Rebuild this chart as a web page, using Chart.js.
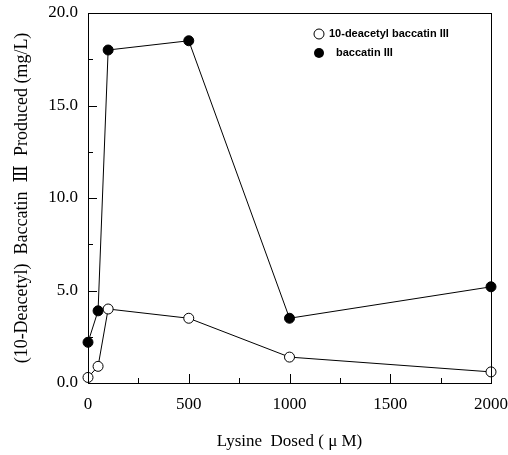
<!DOCTYPE html>
<html>
<head>
<meta charset="utf-8">
<script src="https://cdn.jsdelivr.net/npm/chart.js@4"></script>
<style>
  html, body { margin: 0; padding: 0; background: #fff; }
  #wrap { width: 508px; height: 455px; }
</style>
</head>
<body>
<div id="wrap"><canvas id="chart" width="508" height="455"></canvas></div>
<script>
// lysine dose (uM) and yields (mg/L)
const doses = [0, 50, 100, 500, 1000, 2000];
const deacetylBaccatin = [0.3, 0.9, 4.0, 3.5, 1.4, 0.6];
const baccatin = [2.2, 3.9, 18.0, 18.5, 3.5, 5.2];
const xTicks = [0, 500, 1000, 1500, 2000];
const yTicks = [0, 5, 10, 15, 20];
const legendLabels = ["10-deacetyl baccatin III", "baccatin III"];

const serif = "'Liberation Serif', 'DejaVu Serif', serif";

/* ===== frame + inward ticks ===== */
const framePlugin = {
    id: "frame",
    afterDatasetsDraw(chart) {
        const { ctx, chartArea: a, scales } = chart;
        ctx.save();
        ctx.strokeStyle = "#000";
        ctx.lineWidth = 1;
        ctx.strokeRect(a.left + 0.5, a.top + 0.5, a.right - a.left, a.bottom - a.top);

        ctx.beginPath();
        for (let v = 250; v < 2000; v += 250) {
            const x = Math.round(scales.x.getPixelForValue(v)) + 0.5;
            const len = v % 500 === 0 ? 9 : 5;
            ctx.moveTo(x, a.bottom);
            ctx.lineTo(x, a.bottom - len);
        }
        for (let v = 2.5; v < 20; v += 2.5) {
            const y = Math.round(scales.y.getPixelForValue(v)) + 0.5;
            const len = v % 5 === 0 ? 9 : 5;
            ctx.moveTo(a.left, y);
            ctx.lineTo(a.left + len, y);
        }
        ctx.stroke();
        ctx.restore();
    }
};

/* ===== legend inside plot ===== */
const legendPlugin = {
    id: "innerLegend",
    afterDraw(chart) {
        const { ctx, chartArea: a } = chart;
        const x0 = a.left + 231;
        ctx.save();
        ctx.font = "bold 11px 'Liberation Sans', Arial, sans-serif";
        ctx.textBaseline = "middle";
        ctx.strokeStyle = "#000";
        ctx.lineWidth = 1;

        ctx.beginPath();
        ctx.arc(x0, a.top + 21, 5, 0, Math.PI * 2);
        ctx.fillStyle = "#fff";
        ctx.fill();
        ctx.stroke();
        ctx.fillStyle = "#000";
        ctx.fillText(legendLabels[0], x0 + 10, a.top + 21);

        ctx.beginPath();
        ctx.arc(x0, a.top + 40, 5, 0, Math.PI * 2);
        ctx.fill();
        ctx.fillText(legendLabels[1], x0 + 17, a.top + 40);
        ctx.restore();
    }
};

function noPad(s) {
    s.paddingTop = 0;
    s.paddingBottom = 0;
    s.paddingLeft = 0;
    s.paddingRight = 0;
}

new Chart(document.getElementById("chart"), {
    type: "line",
    data: {
        datasets: [
            {
                label: legendLabels[0],
                data: doses.map((d, i) => ({ x: d, y: deacetylBaccatin[i] })),
                borderColor: "#000",
                borderWidth: 1,
                pointBackgroundColor: "#fff",
                pointBorderColor: "#000",
                pointBorderWidth: 1,
                pointRadius: 5,
                clip: false
            },
            {
                label: legendLabels[1],
                data: doses.map((d, i) => ({ x: d, y: baccatin[i] })),
                borderColor: "#000",
                borderWidth: 1,
                pointBackgroundColor: "#000",
                pointBorderColor: "#000",
                pointBorderWidth: 1,
                pointRadius: 5,
                clip: false
            }
        ]
    },
    options: {
        responsive: false,
        animation: false,
        layout: { padding: { top: 13, right: 17, left: 0, bottom: 0 } },
        plugins: { legend: { display: false }, tooltip: { enabled: false } },
        scales: {
            x: {
                type: "linear",
                min: 0, max: 2000,
                afterBuildTicks: s => { s.ticks = xTicks.map(v => ({ value: v })); },
                afterFit: s => { s.height = 72; noPad(s); },
                grid: { display: false, drawTicks: false },
                border: { display: false },
                ticks: {
                    padding: 11,
                    color: "#000",
                    font: { family: serif, size: 17 },
                    maxRotation: 0,
                    callback: v => String(v)
                },
                title: {
                    display: true,
                    text: "Lysine  Dosed ( μ M)",
                    color: "#000",
                    font: { family: serif, size: 17 },
                    padding: { top: 0, bottom: 3 }
                }
            },
            y: {
                type: "linear",
                min: 0, max: 20,
                afterBuildTicks: s => { s.ticks = yTicks.map(v => ({ value: v })); },
                afterFit: s => { s.width = 88; noPad(s); },
                grid: { display: false, drawTicks: false },
                border: { display: false },
                ticks: {
                    padding: 10,
                    color: "#000",
                    font: { family: serif, size: 17 },
                    callback: v => v.toFixed(1)
                },
                title: {
                    display: true,
                    text: "(10-Deacetyl)  Baccatin  Ⅲ  Produced (mg/L)",
                    color: "#000",
                    font: { family: serif, size: 18 },
                    padding: { top: 11, bottom: 0 }
                }
            }
        }
    },
    plugins: [framePlugin, legendPlugin]
});
</script>
</body>
</html>
